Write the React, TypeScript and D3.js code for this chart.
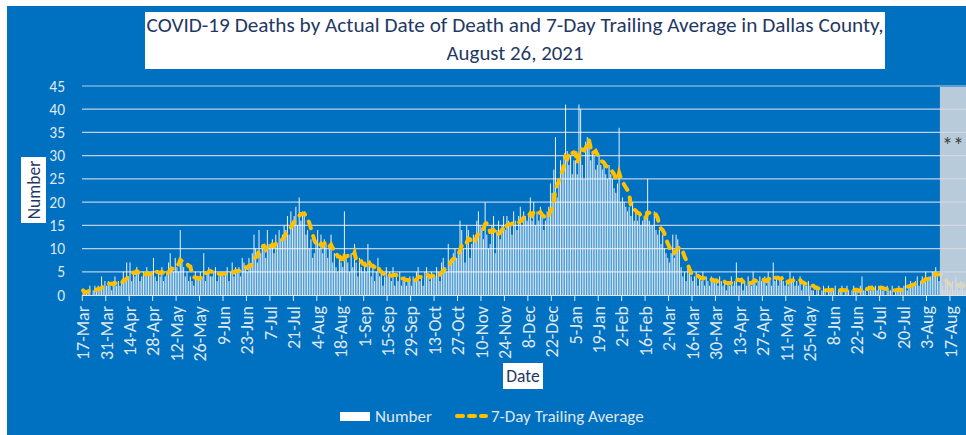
import * as d3 from "d3";

// daily deaths by actual date of death, starting 17-Mar-2020
const startDate = "2020-03-17";
// last days still being reported (shaded grey)
const provisionalStart = "2021-08-11";

const deaths2020 = [
  1, 0, 1, 1, 2, 0, 1, 2, 1, 2, 1, 4, 2, 3,
  2, 3, 2, 1, 3, 4, 2, 3, 2, 3, 5, 3, 7, 4,
  7, 3, 5, 4, 6, 5, 3, 4, 5, 4, 6, 5, 4, 5,
  8, 4, 3, 5, 4, 6, 3, 4, 5, 7, 9, 6, 5, 8,
  6, 5, 14, 7, 6, 4, 5, 3, 4, 3, 2, 5, 4, 3,
  5, 4, 9, 3, 5, 6, 4, 4, 5, 6, 3, 4, 5, 5,
  4, 5, 6, 3, 5, 7, 4, 6, 5, 6, 4, 8, 7, 6,
  5, 8, 6, 9, 13, 10, 7, 14, 9, 11, 10, 8, 14, 11,
  10, 12, 9, 13, 11, 14, 12, 13, 15, 14, 17, 13, 18, 16,
  17, 19, 15, 21, 16, 18, 17, 13, 14, 10, 12, 8, 9, 11,
  14, 10, 13, 9, 12, 11, 8, 10, 13, 7, 9, 6, 5, 8,
  7, 6, 18, 8, 7, 5, 9, 6, 11, 7, 4, 8, 6, 5,
  6, 5, 11, 7, 4, 6, 3, 5, 8, 4, 5, 2, 4, 6,
  4, 5, 3, 6, 2, 4, 3, 5, 2, 3, 4, 2, 3, 4,
  2, 4, 3, 5, 6, 3, 4, 2, 5, 6, 4, 3, 5, 4,
  4, 6, 5, 3, 7, 8, 6, 5, 11, 7, 8, 9, 10, 8,
  9, 16, 14, 10, 7, 15, 14, 8, 11, 13, 12, 16, 18, 15,
  14, 12, 20, 13, 10, 11, 15, 17, 9, 14, 16, 12, 15, 17,
  14, 17, 16, 15, 13, 18, 16, 14, 17, 19, 15, 18, 17, 16,
  17, 21, 16, 20, 15, 18, 16, 19, 17, 14, 16, 18, 19, 24,
  22, 27, 34, 21, 25, 29, 28, 30, 41, 31,
];

const deaths2021 = [
  28, 30, 26, 29,
  29, 26, 41, 40, 28, 25, 33, 34, 33, 29, 31, 30, 27, 28,
  30, 28, 27, 29, 26, 25, 28, 26, 25, 23, 22, 24, 36, 20,
  21, 20, 19, 18, 19, 17, 20, 16, 18, 16, 17, 15, 16, 17,
  18, 25, 16, 15, 15, 18, 14, 13, 14, 11, 13, 10, 9, 8,
  7, 9, 13, 8, 13, 12, 10, 6, 4, 5, 3, 6, 5, 4,
  3, 4, 5, 2, 4, 3, 5, 2, 4, 3, 2, 4, 3, 3,
  3, 2, 4, 3, 2, 3, 1, 3, 2, 4, 2, 3, 7, 2,
  2, 3, 1, 3, 2, 4, 3, 2, 5, 3, 2, 3, 4, 3,
  3, 4, 2, 5, 3, 2, 7, 3, 4, 2, 3, 4, 3, 2,
  3, 2, 5, 3, 4, 2, 3, 2, 4, 1, 3, 2, 2, 3,
  2, 1, 1, 0, 2, 1, 0, 1, 2, 1, 0, 2, 1, 1,
  1, 2, 0, 1, 1, 2, 0, 1, 2, 1, 0, 1, 2, 1,
  1, 0, 2, 4, 1, 1, 0, 2, 1, 2, 1, 2, 1, 2,
  2, 1, 1, 0, 2, 1, 1, 2, 0, 1, 1, 2, 1, 1,
  2, 4, 1, 2, 3, 2, 2, 3, 4, 2, 3, 4, 3, 5,
  3, 4, 4, 5, 5, 6, 4, 3, 4, 2, 1, 3, 2, 1,
  2, 3, 1, 4, 2, 1, 3, 2, 1, 1,
];

const yTicks = [0, 5, 10, 15, 20, 25, 30, 35, 40, 45];
const titleLines = [
  "COVID-19 Deaths by Actual Date of Death and 7-Day Trailing Average in Dallas County,",
  "August 26, 2021",
];
const legendLabels = ["Number", "7-Day Trailing Average"];

const W = 966;
const H = 435;
const BLUE = "#0070c0";
const GOLD = "#ffc000";
const NAVY = "#1f3864";
const LIGHT = "#dfe7ef";
const FONT = "Carlito, Calibri, Lato, sans-serif";

export default function App() {
  const start = d3.timeParse("%Y-%m-%d")(startDate) as Date;
  const provisional = d3.timeParse("%Y-%m-%d")(provisionalStart) as Date;
  const values = [...deaths2020, ...deaths2021];
  const dates = values.map((_, i) => d3.timeDay.offset(start, i));
  const data = values.map((v, i) => ({
    date: dates[i],
    value: v,
    // trailing 7-day mean
    avg: d3.mean(values.slice(Math.max(0, i - 6), i + 1)) as number,
  }));

  const x = d3
    .scaleBand<Date>()
    .domain(dates)
    .range([82.3, 966.7])
    .padding(0);
  const bw = x.bandwidth();
  const y = d3.scaleLinear().domain([0, 45]).range([295, 86]);

  const line = d3
    .line<(typeof data)[number]>()
    .x((d) => (x(d.date) || 0) + bw / 2)
    .y((d) => y(d.avg));

  const fmt = d3.timeFormat("%-d-%b");
  const ticks = dates.filter((_, i) => i % 14 === 0);
  const grayX = x(provisional) || 0;

  return (
    <svg
      width={W}
      height={H}
      style={{ position: "absolute", left: 0, top: 0 }}
      fontFamily={FONT}
    >
      <rect width={W} height={H} fill="#ffffff" />
      <rect x={7} y={6} width={W - 7} height={H - 6} fill={BLUE} />

      {/* title */}
      <rect x={145} y={12} width={740} height={57} fill="#ffffff" />
      <text
        x={515}
        y={32}
        textAnchor="middle"
        fontSize={19.5}
        fill={NAVY}
        textLength={737}
        lengthAdjust="spacingAndGlyphs"
      >
        {titleLines[0]}
      </text>
      <text
        x={515}
        y={60}
        textAnchor="middle"
        fontSize={19.5}
        fill={NAVY}
        textLength={137}
        lengthAdjust="spacingAndGlyphs"
      >
        {titleLines[1]}
      </text>

      {/* gridlines + y labels */}
      {yTicks.map((t) => (
        <g key={t}>
          {t > 0 && (
            <line
              x1={82}
              x2={W}
              y1={y(t)}
              y2={y(t)}
              stroke="#b9d0e8"
              strokeWidth={1.2}
            />
          )}
          <text
            x={65}
            y={y(t)}
            textAnchor="end"
            dominantBaseline="central"
            fontSize={15.5}
            fill={LIGHT}
          >
            {t}
          </text>
        </g>
      ))}

      {/* bars */}
      {data.map((d, i) => (
        <rect
          key={i}
          x={(x(d.date) || 0) + bw * 0.18}
          y={y(d.value)}
          width={bw * 0.64}
          height={y(0) - y(d.value)}
          fill="#ffffff"
          opacity={0.85}
        />
      ))}

      {/* 7-day average */}
      <path
        d={line(data) || ""}
        fill="none"
        stroke={GOLD}
        strokeWidth={4}
        strokeDasharray="7 8"
        strokeLinecap="round"
      />

      {/* x axis */}
      <line x1={82} x2={W} y1={295.5} y2={295.5} stroke={LIGHT} strokeWidth={1} />
      {ticks.map((d, i) => {
        const x0 = x(d) || 0;
        return (
          <g key={i}>
            <line x1={x0} x2={x0} y1={295} y2={301} stroke={LIGHT} />
            <text
              transform={`translate(${x0 + bw / 2},306) rotate(-90)`}
              textAnchor="end"
              dominantBaseline="central"
              fontSize={18}
              fill={LIGHT}
            >
              {fmt(d)}
            </text>
          </g>
        );
      })}

      {/* provisional shading */}
      <rect
        x={grayX}
        y={y(45) + 1}
        width={W - grayX}
        height={y(0) - y(45) - 1}
        fill="#d6dade"
        opacity={0.86}
      />
      <text x={953} y={153} textAnchor="middle" fontSize={22} fill="#404040">
        **
      </text>

      {/* axis titles */}
      <rect x={21} y={157} width={25} height={66} fill="#ffffff" />
      <text
        transform="translate(34,190) rotate(-90)"
        textAnchor="middle"
        dominantBaseline="central"
        fontSize={17.5}
        fill={NAVY}
      >
        Number
      </text>
      <rect x={503} y={363} width={40} height={26} fill="#ffffff" />
      <text
        x={523}
        y={376}
        textAnchor="middle"
        dominantBaseline="central"
        fontSize={17.5}
        fill={NAVY}
      >
        Date
      </text>

      {/* legend */}
      <rect x={340} y={412} width={30} height={9} fill="#ffffff" />
      <text x={375} y={416.5} dominantBaseline="central" fontSize={17} fill={LIGHT}>
        {legendLabels[0]}
      </text>
      <line
        x1={457}
        x2={486}
        y1={416}
        y2={416}
        stroke={GOLD}
        strokeWidth={4}
        strokeDasharray="6 6"
        strokeLinecap="round"
      />
      <text x={491} y={416.5} dominantBaseline="central" fontSize={17} fill={LIGHT}>
        {legendLabels[1]}
      </text>
    </svg>
  );
}
